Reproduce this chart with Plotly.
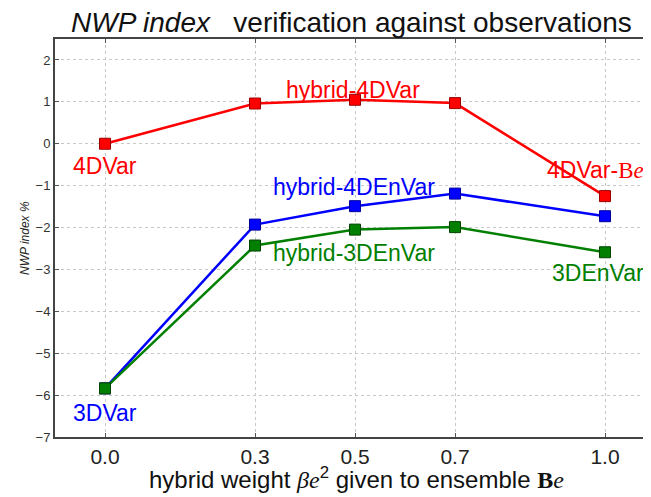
import plotly.graph_objects as go

weights = [0.0, 0.3, 0.5, 0.7, 1.0]
tick_labels = ["0.0", "0.3", "0.5", "0.7", "1.0"]
red_4dvar = [0.0, 0.96, 1.05, 0.97, -1.25]
blue_4denvar = [-5.84, -1.93, -1.49, -1.19, -1.73]
green_3denvar = [-5.84, -2.43, -2.05, -1.99, -2.59]
y_ticks = [-7, -6, -5, -4, -3, -2, -1, 0, 1, 2]

SANS = "Liberation Sans, Arial, sans-serif"

# page body has an 8px margin; figure coordinates below compensate for it
L, T, W, H = 47, 31, 604, 398

fig = go.Figure()
series = [
    (red_4dvar, "#ff0000", "#990000"),
    (blue_4denvar, "#0000ff", "#000099"),
    (green_3denvar, "#007f00", "#004400"),
]
for vals, col, edge in series:
    fig.add_trace(go.Scatter(
        x=weights, y=vals, mode="lines+markers",
        line=dict(color=col, width=2.5),
        marker=dict(symbol="square", size=11, color=col, line=dict(color=edge, width=1)),
        showlegend=False, cliponaxis=False,
    ))

def ann(text, x, y, color, xanchor="center"):
    fig.add_annotation(x=x, y=y, xref="x", yref="y", text=text, showarrow=False,
                       font=dict(family=SANS, size=23, color=color),
                       xanchor=xanchor, yanchor="middle")

ann("4DVar", 0.0, -0.53, "#ff0000")
ann("hybrid-4DVar", 0.495, 1.29, "#ff0000")
ann("4DVar-<span style='font-family:Liberation Serif'>B<i>e</i></span>", 1.082, -0.62, "#ff0000", xanchor="right")
ann("hybrid-4DEnVar", 0.498, -1.03, "#0000ff")
ann("hybrid-3DEnVar", 0.498, -2.6, "#007f00")
ann("3DEnVar", 0.985, -3.08, "#007f00")
ann("3DVar", 0.0, -6.43, "#0000ff")

# title
fig.add_annotation(xref="paper", yref="paper", x=(343 - L) / W, y=1.0 + (T - 14) / H,
                   text="<i>NWP index</i>\u00a0\u00a0\u00a0verification against observations",
                   showarrow=False, font=dict(family=SANS, size=28, color="#111"),
                   xanchor="center", yanchor="middle")
# y title
fig.add_annotation(xref="paper", yref="paper", x=-(L - 17) / W, y=0.5, textangle=-90,
                   text="<i>NWP index %</i>", showarrow=False,
                   font=dict(family=SANS, size=12, color="#222"),
                   xanchor="center", yanchor="middle")
# x title
fig.add_annotation(xref="paper", yref="paper", x=(348 - L) / W, y=-(470 - (T + H)) / H,
                   text="hybrid weight <span style='font-family:Liberation Serif'><i>βe</i></span><sup>2</sup> given to ensemble <span style='font-family:Liberation Serif'><b>B</b><i>e</i></span>",
                   showarrow=False, font=dict(family=SANS, size=24, color="#111"),
                   xanchor="center", yanchor="middle")

axis_common = dict(showline=True, linecolor="#444", linewidth=2, mirror="ticks",
                   ticks="inside", ticklen=4, tickcolor="#555",
                   showgrid=True, gridcolor="#c8c8c8", griddash="dot", gridwidth=1,
                   zeroline=False)

fig.update_layout(
    width=651, height=497,
    margin=dict(l=L, r=651 - L - W, t=T, b=497 - T - H, autoexpand=False),
    paper_bgcolor="white", plot_bgcolor="white",
    xaxis=dict(range=[-0.1, 1.108], tickvals=weights, ticktext=tick_labels,
               tickfont=dict(family=SANS, size=21, color="#222"), **axis_common),
    yaxis=dict(range=[-7, 2.5], tickvals=y_ticks,
               tickfont=dict(family=SANS, size=13, color="#333"), **axis_common),
)

fig.write_html("out.html")
